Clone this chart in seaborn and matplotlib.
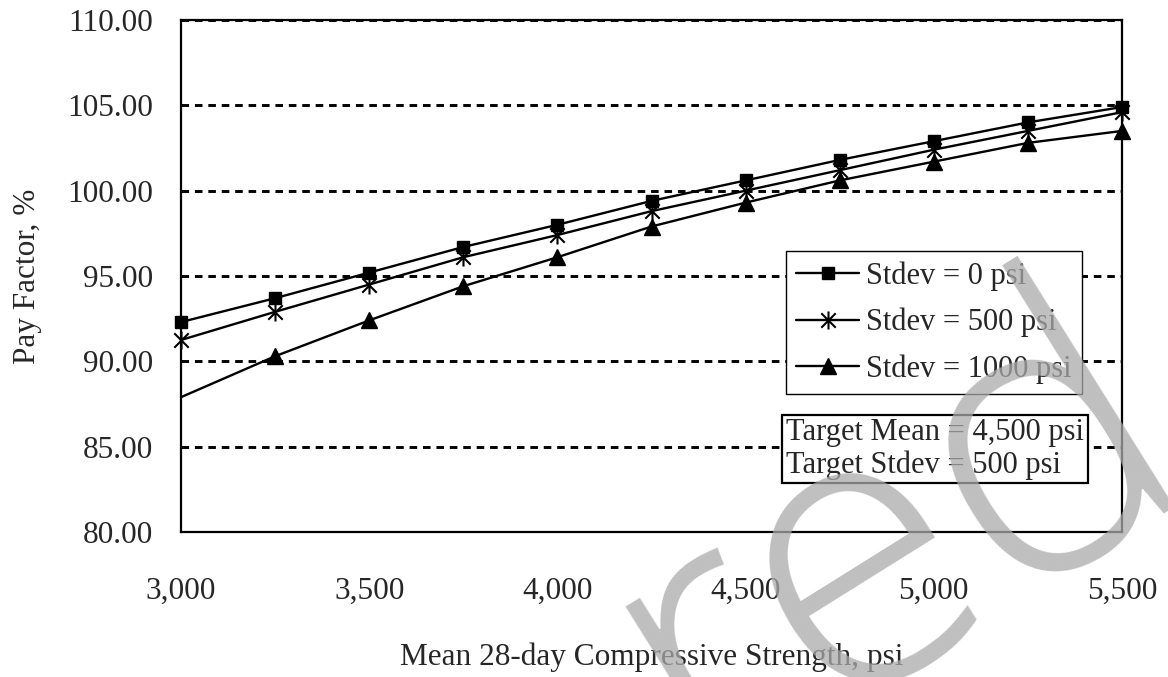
import matplotlib
matplotlib.use("Agg")
import matplotlib.pyplot as plt
from matplotlib.path import Path
import seaborn as sns

# Mean 28-day compressive strength (psi) and the resulting pay factor (%)
strength = [3000, 3250, 3500, 3750, 4000, 4250, 4500, 4750, 5000, 5250, 5500]
pf_sd0 = [92.3, 93.7, 95.2, 96.7, 98.0, 99.4, 100.6, 101.8, 102.9, 104.0, 104.9]
pf_sd500 = [91.25, 92.9, 94.5, 96.1, 97.4, 98.8, 100.0, 101.2, 102.4, 103.5, 104.6]
pf_sd1000 = [87.9, 90.3, 92.4, 94.4, 96.1, 97.9, 99.3, 100.6, 101.7, 102.8, 103.5]
series_labels = ["Stdev = 0 psi", "Stdev = 500 psi", "Stdev = 1000 psi"]
y_ticks = [80, 85, 90, 95, 100, 105, 110]
x_ticks = [3000, 3500, 4000, 4500, 5000, 5500]
note_lines = ["Target Mean = 4,500 psi", "Target Stdev = 500 psi"]

sns.set_style("white")
plt.rcParams["font.family"] = ["Liberation Serif", "DejaVu Serif"]

W, H = 1168, 677
fig = plt.figure(figsize=(W / 100, H / 100), dpi=100)
ax = fig.add_axes([181 / W, 1 - 532 / H, (1122 - 181) / W, (532 - 20) / H])

# asterisk marker: vertical bar plus an X
asterisk = Path([(0, -1), (0, 1), (-0.8, -0.8), (0.8, 0.8), (-0.8, 0.8), (0.8, -0.8)],
                [Path.MOVETO, Path.LINETO] * 3)

styles = [
    dict(marker="s", markersize=9),
    dict(marker=asterisk, markersize=13, markeredgewidth=1.5),
    dict(marker="^", markersize=11),
]
for vals, lab, st in zip([pf_sd0, pf_sd500, pf_sd1000], series_labels, styles):
    kw = dict(markeredgewidth=1.0)
    kw.update(st)
    sns.lineplot(x=strength, y=vals, ax=ax, color="black", linewidth=1.7,
                 markerfacecolor="black", markeredgecolor="black",
                 label=lab, clip_on=False, zorder=4, **kw)

ax.set_xlim(3000, 5500)
ax.set_ylim(80, 110)
ax.set_xticks(x_ticks)
ax.set_yticks(y_ticks)
ax.set_xticklabels([f"{v:,}" for v in x_ticks])
ax.set_yticklabels([f"{v:.2f}" for v in y_ticks])
ax.tick_params(axis="both", labelsize=22.5, direction="out", length=8, width=1.0,
               color="#444444")
ax.tick_params(axis="x", pad=24)
ax.tick_params(axis="y", pad=12)

ax.yaxis.grid(True, color="black", linewidth=2.1, linestyle=(0, (2.6, 2.0)))
ax.xaxis.grid(False)
for sp in ax.spines.values():
    sp.set_color("black")
    sp.set_linewidth(1.6)
    sp.set_visible(True)

ax.set_xlabel("Mean 28-day Compressive Strength, psi", fontsize=22.5)
ax.set_ylabel("Pay Factor, %", fontsize=22.5)
ax.xaxis.set_label_coords(0.5, -0.216)
ax.yaxis.set_label_coords(-0.148, 0.5)

handles, labels = ax.get_legend_handles_labels()
leg = ax.legend(handles, labels, loc="upper left",
                bbox_to_anchor=(785.7 / W, 1 - 250.7 / H), bbox_transform=fig.transFigure,
                borderaxespad=0, fontsize=22, frameon=True, fancybox=False,
                edgecolor="black", framealpha=1, handlelength=2.05,
                handletextpad=0.22, borderpad=0.35, labelspacing=0.55)
leg.get_frame().set_linewidth(1.0)

# the 1000 psi curve carries no marker at its first point
ax.get_lines()[2].set_markevery(list(range(1, len(strength))))

fig.text(786 / W, 1 - 449 / H, "\n".join(note_lines), fontsize=22, ha="left", va="center",
         linespacing=1.12,
         bbox=dict(boxstyle="square,pad=0.12", facecolor="white", edgecolor="black",
                   linewidth=1.6))

# grey overlay lettering across the lower right
fig.text(700, -105, "red", transform=None, fontsize=280,
         family=["Open Sans", "Liberation Sans"], fontweight="light",
         color="#aaaaaa", alpha=0.75, rotation=32,
         rotation_mode="anchor", ha="left", va="baseline", zorder=10)

fig.savefig("out.png", dpi=100)
